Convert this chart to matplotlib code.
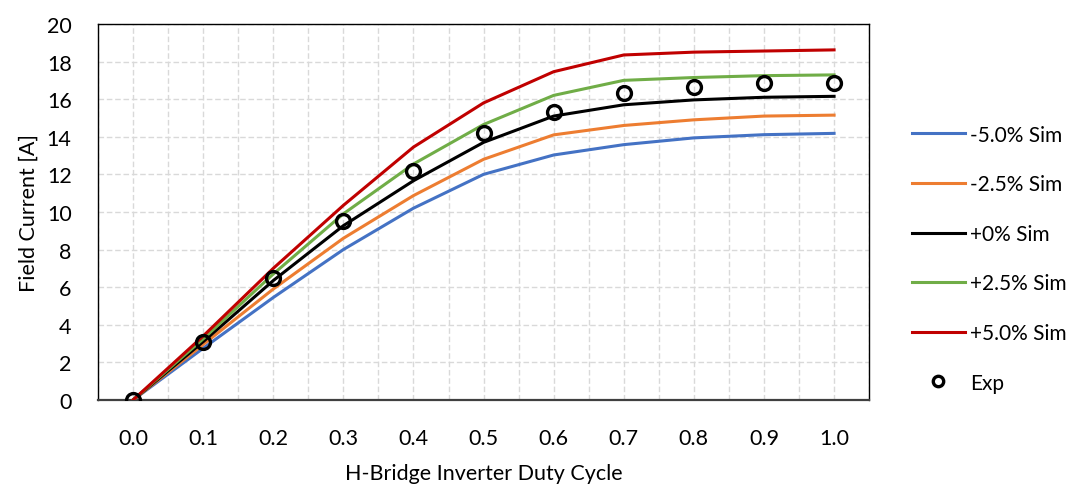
import matplotlib.pyplot as plt
import numpy as np

duty = [0.0, 0.1, 0.2, 0.3, 0.4, 0.5, 0.6, 0.7, 0.8, 0.9, 1.0]
duty_labels = [f"{d:.1f}" for d in duty]

sim_m50 = [0, 2.75, 5.45, 8.0, 10.2, 12.0, 13.03, 13.58, 13.94, 14.11, 14.18]
sim_m25 = [0, 2.95, 5.9, 8.6, 10.87, 12.8, 14.1, 14.6, 14.9, 15.1, 15.15]
sim_0 = [0, 3.1, 6.35, 9.27, 11.66, 13.7, 15.1, 15.7, 15.96, 16.1, 16.15]
sim_p25 = [0, 3.25, 6.7, 9.9, 12.55, 14.65, 16.2, 17.0, 17.15, 17.25, 17.29]
sim_p50 = [0, 3.4, 7.0, 10.35, 13.45, 15.8, 17.46, 18.35, 18.5, 18.56, 18.62]
exp = [0, 3.1, 6.5, 9.52, 12.18, 14.2, 15.3, 16.35, 16.63, 16.85, 16.85]

series = [
    ("-5.0% Sim", sim_m50, "#4472C4"),
    ("-2.5% Sim", sim_m25, "#ED7D31"),
    ("+0% Sim", sim_0, "#000000"),
    ("+2.5% Sim", sim_p25, "#70AD47"),
    ("+5.0% Sim", sim_p50, "#C00000"),
]

plt.rcParams['font.family'] = ['Lato', 'DejaVu Sans']

fig = plt.figure(figsize=(10.83, 4.89), dpi=100)
ax = fig.add_axes([0.0905, 0.18, 0.712, 0.769])

for name, vals, col in series:
    ax.plot(duty, vals, color=col, lw=2.2, label=name, zorder=3)
ax.plot(duty, exp, ls='none', marker='o', ms=10, mfc='none', mec='black',
        mew=2.4, label="Exp", zorder=4)

ax.set_xlim(-0.05, 1.05)
ax.set_ylim(0, 20)
ax.set_xticks(duty)
ax.set_xticklabels(duty_labels)
ax.set_xticks(np.arange(-0.05, 1.06, 0.1), minor=True)
ax.set_yticks(np.arange(0, 21, 2))

ax.grid(which='both', axis='x', color='#d9d9d9', ls=(0, (4, 2)), lw=1)
ax.grid(which='major', axis='y', color='#d9d9d9', ls=(0, (4, 2)), lw=1)
ax.set_axisbelow(True)

ax.tick_params(which='both', length=0, labelsize=15.5)
ax.tick_params(axis='x', pad=20)
ax.tick_params(axis='y', pad=19)

for s in ['top', 'right', 'left']:
    ax.spines[s].set_color('black')
    ax.spines[s].set_linewidth(1)
ax.spines['bottom'].set_color('#404040')
ax.spines['bottom'].set_linewidth(1.6)

ax.set_xlabel("H-Bridge Inverter Duty Cycle", fontsize=15.5, labelpad=11)
ax.set_ylabel("Field Current [A]", fontsize=15.5, labelpad=6)

leg = fig.legend(loc='center left', bbox_to_anchor=(0.8245, 0.469), frameon=False,
                 fontsize=15, handlelength=2.55, handletextpad=0.25, labelspacing=1.42,
                 markerscale=0.75)

fig.savefig("out.png", dpi=100)
